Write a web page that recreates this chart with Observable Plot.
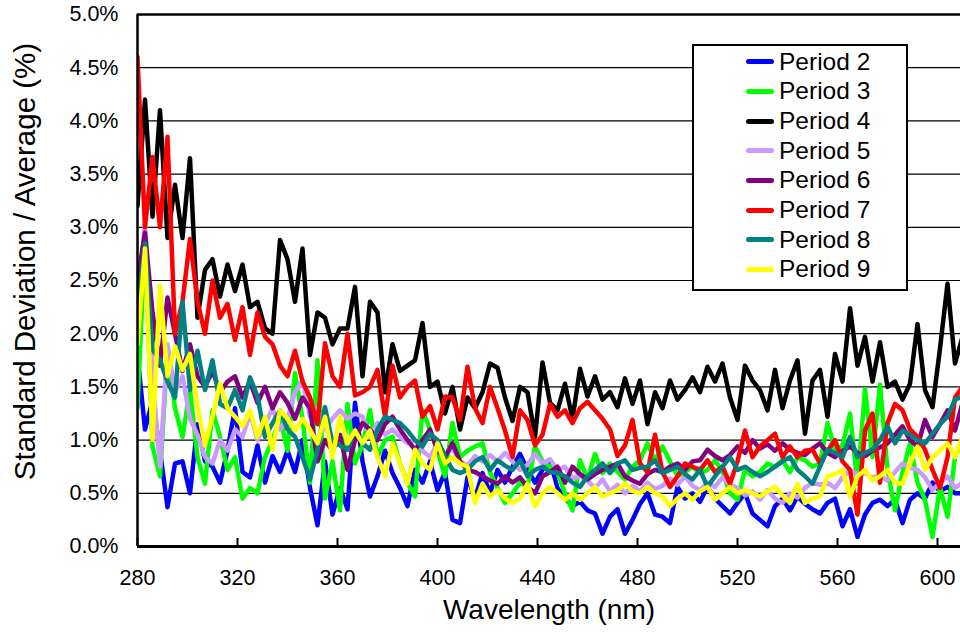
<!DOCTYPE html>
<html>
<head>
<meta charset="utf-8">
<script src="https://cdn.jsdelivr.net/npm/d3@7"></script>
<script src="https://cdn.jsdelivr.net/npm/@observablehq/plot@0.6"></script>
<style>
  html, body { margin: 0; padding: 0; background: #fff; }
  #wrap { position: relative; width: 960px; height: 634px; overflow: hidden; font-family: 'Liberation Sans', Arial, sans-serif; }
  #legend { position: absolute; left: 692px; top: 44px; width: 216px; height: 247px; box-sizing: border-box;
            border: 2px solid #000; background: #fff; padding-top: 1px; }
  .row { display: flex; align-items: center; height: 29.7px; }
  .sw { margin-left: 52px; width: 28px; height: 5px; border-radius: 2.5px; }
  .lb { margin-left: 5px; font-size: 24.5px; color: #000; line-height: 1; }
</style>
</head>
<body>
<div id="wrap"></div>
<script>
const wavelength = [
  280,283,286,289,292,295,298,301,304,307,
  310,313,316,319,322,325,328,331,334,337,
  340,343,346,349,352,355,358,361,364,367,
  370,373,376,379,382,385,388,391,394,397,
  400,403,406,409,412,415,418,421,424,427,
  430,433,436,439,442,445,448,451,454,457,
  460,463,466,469,472,475,478,481,484,487,
  490,493,496,499,502,505,508,511,514,517,
  520,523,526,529,532,535,538,541,544,547,
  550,553,556,559,562,565,568,571,574,577,
  580,583,586,589,592,595,598,601,604,607,
  610];

const period2 = [
  1.8,1.1,1.37,0.9,0.37,0.78,0.8,0.5,1.15,0.8,
  0.75,0.6,0.9,1.3,0.7,0.65,0.95,0.6,0.85,0.7,
  0.9,0.7,1.0,0.55,0.2,0.8,0.3,0.55,0.35,1.35,
  0.8,0.47,0.66,0.9,0.69,0.55,0.38,0.72,0.6,0.8,
  0.53,0.7,0.25,0.22,0.65,0.45,0.69,0.5,0.72,0.6,
  0.75,0.87,0.72,0.6,0.72,0.81,0.55,0.45,0.38,0.42,
  0.34,0.31,0.12,0.28,0.35,0.12,0.25,0.4,0.5,0.3,
  0.28,0.22,0.56,0.45,0.5,0.42,0.56,0.45,0.38,0.31,
  0.41,0.5,0.31,0.25,0.19,0.38,0.45,0.34,0.47,0.4,
  0.35,0.31,0.41,0.45,0.19,0.35,0.09,0.3,0.41,0.44,
  0.38,0.44,0.22,0.44,0.5,0.45,0.6,0.52,0.56,0.5,
  0.5];

const period3 = [
  1.3,2.9,0.94,0.66,1.84,1.3,1.03,1.47,0.84,0.59,
  1.28,1.03,0.72,0.84,0.45,0.55,0.5,0.84,1.0,1.22,
  0.9,1.63,1.2,0.6,1.75,0.45,0.8,0.34,1.34,0.78,
  0.95,1.28,0.84,1.0,1.03,0.78,0.6,0.47,1.28,1.1,
  0.9,0.66,1.16,0.84,0.9,0.94,0.97,0.7,0.55,0.41,
  0.5,0.6,0.56,0.94,0.8,0.75,0.69,0.5,0.34,0.81,
  0.63,0.87,0.69,0.78,0.7,0.63,0.75,0.81,0.97,0.81,
  0.94,0.8,0.66,0.7,0.75,0.69,0.72,0.81,0.7,0.5,
  0.44,0.72,0.66,0.7,0.78,0.75,0.81,0.7,0.84,0.81,
  0.75,0.78,1.16,0.91,0.95,1.25,0.59,1.48,0.84,1.52,
  0.72,0.34,0.7,0.97,0.6,0.44,0.09,0.56,0.28,0.84,
  1.0];

const period4 = [
  3.2,4.2,3.1,4.1,2.9,3.4,2.9,3.65,2.15,2.6,
  2.7,2.35,2.65,2.4,2.65,2.25,2.3,2.05,2.0,2.88,
  2.7,2.3,2.8,1.8,2.2,2.15,1.9,2.05,2.05,2.44,
  1.6,2.3,2.2,1.45,1.9,1.65,1.7,1.75,2.1,1.5,
  1.55,1.25,1.5,1.1,1.4,1.3,1.45,1.72,1.68,1.4,
  1.18,1.5,1.45,1.03,1.73,1.35,1.28,1.53,1.2,1.67,
  1.41,1.6,1.38,1.45,1.31,1.58,1.34,1.56,1.15,1.45,
  1.3,1.56,1.38,1.47,1.59,1.45,1.69,1.55,1.72,1.4,
  1.19,1.7,1.56,1.47,1.28,1.66,1.3,1.56,1.75,1.06,
  1.56,1.66,1.22,1.81,1.55,2.24,1.7,1.97,1.55,1.92,
  1.5,1.55,1.38,1.53,2.09,1.47,1.31,1.86,2.47,1.72,
  1.97];

const period5 = [
  2.2,3.05,1.6,0.75,1.9,1.45,1.6,1.2,1.05,0.84,
  0.78,1.0,0.9,1.1,1.03,1.25,1.0,1.15,1.3,1.1,
  1.2,1.45,1.56,1.22,1.3,1.1,1.2,1.28,1.2,1.25,
  1.22,1.03,1.16,1.05,1.1,1.03,0.97,1.0,0.9,0.84,
  0.97,0.86,0.92,0.8,0.76,0.85,0.8,0.86,0.8,0.88,
  0.8,0.72,0.77,0.87,0.78,0.82,0.72,0.75,0.64,0.66,
  0.62,0.55,0.63,0.52,0.58,0.5,0.57,0.52,0.6,0.54,
  0.57,0.64,0.58,0.66,0.57,0.53,0.6,0.56,0.65,0.58,
  0.55,0.48,0.52,0.44,0.53,0.45,0.41,0.5,0.46,0.55,
  0.6,0.58,0.6,0.55,0.65,0.72,0.68,0.69,0.65,0.66,
  0.62,0.7,0.78,0.74,0.72,0.65,0.53,0.6,0.66,0.55,
  0.6];

const period6 = [
  2.5,2.95,2.2,1.7,2.34,2.0,1.65,1.9,1.6,1.5,
  1.65,1.45,1.55,1.6,1.4,1.55,1.35,1.5,1.3,1.45,
  1.35,1.2,1.4,1.3,0.8,1.0,0.9,1.05,0.72,1.0,
  1.16,1.1,1.0,1.15,1.22,1.1,1.0,0.91,1.0,1.1,
  0.9,0.84,0.97,0.8,0.72,0.7,0.66,0.62,0.59,0.66,
  0.6,0.65,0.56,0.5,0.66,0.7,0.75,0.6,0.75,0.68,
  0.63,0.68,0.72,0.75,0.78,0.66,0.62,0.59,0.68,0.72,
  0.7,0.75,0.78,0.72,0.8,0.81,0.91,0.85,0.81,0.86,
  0.94,0.88,1.0,0.92,0.96,0.9,0.97,0.91,0.88,0.86,
  0.92,0.97,0.88,0.84,0.9,0.94,0.88,0.85,0.9,0.93,
  0.97,1.05,1.13,1.0,0.94,1.19,1.03,1.15,1.28,1.09,
  1.35];

const period7 = [
  4.6,3.0,3.66,3.0,3.85,2.0,2.3,2.89,2.3,2.0,
  2.5,2.15,2.28,1.94,2.25,1.8,2.2,1.97,1.9,1.7,
  1.6,1.84,1.55,1.4,1.15,1.91,1.6,1.5,2.0,1.42,
  1.45,1.5,1.66,1.22,1.7,1.4,1.5,1.56,1.22,1.32,
  1.1,1.41,1.4,1.19,1.69,1.3,1.16,1.5,1.3,1.09,
  0.84,1.28,1.19,0.95,1.05,1.34,1.22,1.28,1.16,1.3,
  1.36,1.28,1.2,1.1,0.85,0.95,1.19,0.78,0.7,1.05,
  0.7,0.56,0.66,0.78,0.75,0.72,0.81,0.7,0.75,0.59,
  0.8,1.09,0.84,0.94,1.0,1.06,0.84,0.94,0.84,0.9,
  0.91,0.78,0.9,1.0,0.8,0.72,0.3,1.09,1.25,0.6,
  1.16,1.34,1.28,1.1,1.03,0.91,0.72,0.55,0.84,1.4,
  1.5];

const period8 = [
  2.2,2.85,1.85,1.75,1.55,1.4,2.3,1.47,1.84,1.47,
  1.75,1.34,1.3,1.47,1.28,1.59,1.41,1.03,1.16,1.28,
  1.1,1.03,0.84,0.63,0.91,1.31,0.97,0.95,0.91,1.09,
  0.97,0.91,1.1,1.22,1.19,1.16,1.09,1.0,0.94,1.06,
  1.0,0.85,0.72,0.69,0.72,0.8,0.84,0.72,0.81,0.76,
  0.72,0.81,0.66,0.72,0.75,0.7,0.69,0.66,0.6,0.56,
  0.66,0.72,0.78,0.69,0.78,0.81,0.72,0.74,0.75,0.81,
  0.69,0.72,0.75,0.68,0.63,0.72,0.56,0.66,0.75,0.84,
  0.72,0.75,0.7,0.66,0.7,0.75,0.8,0.84,0.72,0.66,
  0.59,0.75,0.91,0.88,0.84,1.03,0.84,0.88,0.91,1.0,
  1.13,0.97,1.09,1.05,1.0,0.97,1.06,1.15,1.22,1.38,
  1.41];

const period9 = [
  1.9,2.8,1.0,2.45,1.6,1.88,1.66,1.81,1.31,0.95,
  1.22,1.53,1.3,1.22,1.13,1.28,1.03,1.22,0.91,1.28,
  1.2,1.09,1.2,1.1,0.97,1.22,0.84,1.22,0.97,1.09,
  0.97,1.09,0.84,0.66,0.97,0.78,0.59,0.91,0.78,0.72,
  0.97,0.78,0.84,0.78,0.75,0.41,0.59,0.47,0.53,0.45,
  0.41,0.45,0.59,0.38,0.5,0.56,0.5,0.44,0.5,0.44,
  0.5,0.56,0.47,0.5,0.53,0.59,0.52,0.5,0.56,0.5,
  0.47,0.38,0.45,0.5,0.44,0.52,0.56,0.44,0.5,0.56,
  0.5,0.53,0.5,0.47,0.52,0.56,0.48,0.41,0.59,0.41,
  0.45,0.47,0.66,0.68,0.72,0.47,0.66,0.72,0.62,0.66,
  0.72,0.6,0.59,0.78,0.94,0.72,0.84,0.9,0.97,0.84,
  1.03];

const seriesNames = ["Period 2","Period 3","Period 4","Period 5","Period 6","Period 7","Period 8","Period 9"];
const seriesColors = ["#0000FF","#00FF00","#000000","#CC99FF","#800080","#FF0000","#008080","#FFFF00"];
const seriesValues = [period2, period3, period4, period5, period6, period7, period8, period9];
const yTicks = [0,0.5,1,1.5,2,2.5,3,3.5,4,4.5,5];
const xTicks = [280,320,360,400,440,480,520,560,600];
const xTitle = "Wavelength (nm)";
const yTitle = "Standard Deviation / Average (%)";

const lineMarks = seriesValues.map((vals, k) => {
  const rows = wavelength.map((w, i) => ({w, v: vals[i]}));
  return Plot.line(rows, {x: "w", y: "v", stroke: seriesColors[k], strokeWidth: 4.5,
    strokeLinejoin: "round", strokeLinecap: "round", clip: true});
});

const chart = Plot.plot({
  width: 960,
  height: 634,
  marginLeft: 137,
  marginRight: 0,
  marginTop: 14,
  marginBottom: 88,
  style: {fontFamily: "'Liberation Sans', Arial, sans-serif", fontSize: "21px", background: "white", color: "black", overflow: "visible"},
  x: {domain: [280, 609.2]},
  y: {domain: [0, 5]},
  marks: [
    Plot.ruleY(yTicks.filter(d => d > 0 && d < 5), {stroke: "black", strokeWidth: 1.2}),
    ...lineMarks,
    Plot.ruleX(xTicks, {stroke: "black", strokeWidth: 2, insetTop: 524}),
    Plot.ruleY([0], {stroke: "black", strokeWidth: 3}),
    Plot.ruleY([5], {stroke: "black", strokeWidth: 2.5}),
    Plot.ruleX([280], {stroke: "black", strokeWidth: 2.5}),
    Plot.axisY({ticks: yTicks, tickSize: 0, tickPadding: 19, tickFormat: d => d.toFixed(1) + "%", fontSize: 21.5, label: null}),
    Plot.axisX({ticks: xTicks, tickSize: 0, tickPadding: 23, tickFormat: d => String(d), fontSize: 21.5, label: null}),
    Plot.text([xTitle], {frameAnchor: "bottom", dy: 72, fontSize: 28, fill: "black"}),
    Plot.text([yTitle], {frameAnchor: "left", textAnchor: "middle", rotate: -90, dx: -112, dy: -19, fontSize: 29.5, fill: "black"})
  ]
});

const wrap = document.getElementById("wrap");
wrap.appendChild(chart);

const legend = document.createElement("div");
legend.id = "legend";
seriesNames.forEach((name, k) => {
  const row = document.createElement("div");
  row.className = "row";
  const sw = document.createElement("div");
  sw.className = "sw";
  sw.style.background = seriesColors[k];
  const lb = document.createElement("div");
  lb.className = "lb";
  lb.textContent = name;
  row.appendChild(sw);
  row.appendChild(lb);
  legend.appendChild(row);
});
wrap.appendChild(legend);
</script>
</body>
</html>
